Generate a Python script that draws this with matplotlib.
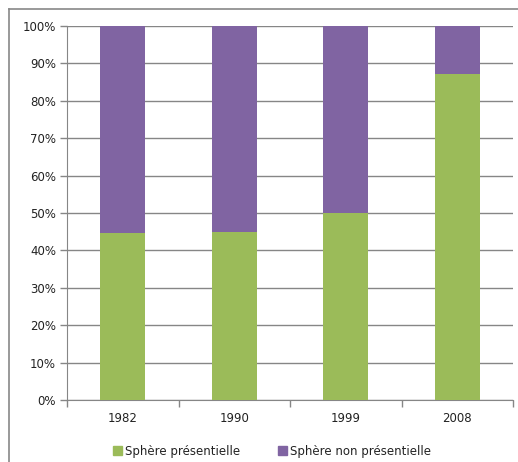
import matplotlib
matplotlib.use("Agg")
import matplotlib.pyplot as plt
from matplotlib.lines import Line2D
from matplotlib.patches import Patch
import numpy as np

categories = ["1982", "1990", "1999", "2008"]
presentielle = [44.6, 44.9, 50.0, 87.1]
non_presentielle = [55.4, 55.1, 50.0, 12.9]
series_names = ["Sphère présentielle", "Sphère non présentielle"]
yticks = [0, 10, 20, 30, 40, 50, 60, 70, 80, 90, 100]

green = "#9BBB59"
purple = "#8064A2"
grid = "#868686"

W, H = 518, 462
fig = plt.figure(figsize=(W/100, H/100), dpi=100)
plt.rcParams['font.family'] = ['DejaVu Sans']

# outer chart border
fig.add_artist(Line2D([9/W, 9/W], [0, 1 - 9/H], color="#888888", lw=1.2))
fig.add_artist(Line2D([9/W, 1], [1 - 9/H, 1 - 9/H], color="#888888", lw=1.2))

left, right, top, bottom = 67, 513, 26, 400
ax = fig.add_axes([left/W, 1 - bottom/H, (right-left)/W, (bottom-top)/H])

x = np.arange(len(categories))
ax.bar(x, presentielle, width=0.4, color=green, zorder=3)
ax.bar(x, non_presentielle, width=0.4, bottom=presentielle, color=purple, zorder=3)

ax.set_xlim(-0.5, len(categories) - 0.5)
ax.set_ylim(0, 100)
ax.set_yticks(yticks)
ax.set_yticklabels([f"{v}%" for v in yticks], fontsize=8.5, color="#222222")
ax.yaxis.grid(True, color=grid, lw=1.0, zorder=0)
ax.set_axisbelow(True)

ax.set_xticks(x)
ax.set_xticklabels(categories, fontsize=8.5, color="#222222")
ax.tick_params(axis="x", length=0, pad=9)
ax.set_xticks(np.arange(-0.5, len(categories)), minor=True)
ax.tick_params(axis="x", which="minor", length=5, color=grid, width=1)
ax.tick_params(axis="y", length=5, color=grid, width=1, pad=3)

for s in ["top", "right"]:
    ax.spines[s].set_visible(False)
ax.spines["left"].set_color(grid)
ax.spines["bottom"].set_color(grid)

handles = [Patch(color=green), Patch(color=purple)]
leg = fig.legend(handles, series_names, loc="center", bbox_to_anchor=(272/W, 1 - 451/H),
           ncol=2, frameon=False, fontsize=8.5, handlelength=0.75, handleheight=0.75,
           handletextpad=0.3, columnspacing=3.2)
for t in leg.get_texts():
    t.set_color("#222222")

fig.savefig("out.png", dpi=100, facecolor="white")
